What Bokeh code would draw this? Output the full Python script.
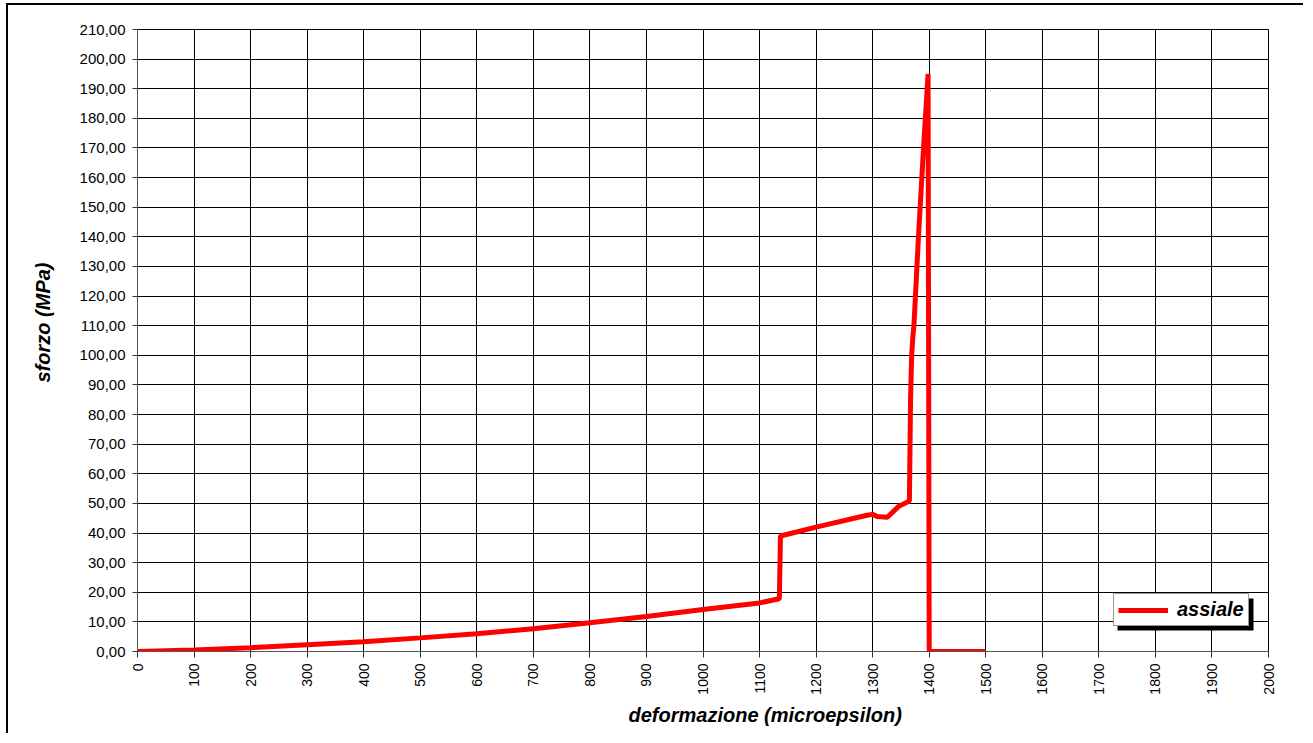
import math
from bokeh.plotting import figure
from bokeh.models import (Range1d, SingleIntervalTicker, CustomJSTickFormatter,
                          Legend, LegendItem, Title, BoxAnnotation,
                          ColumnDataSource)
from bokeh.embed import file_html
from bokeh.resources import INLINE

# ---- data ----
strain = [0, 100, 200, 300, 400, 500, 600, 700, 800, 900, 1000, 1100, 1135,
          1137, 1200, 1290, 1300, 1308, 1326, 1346, 1365, 1367, 1369, 1371,
          1373, 1381, 1390, 1398, 1400, 1500]
stress = [0.0, 0.5, 1.3, 2.3, 3.3, 4.6, 6.0, 7.7, 9.7, 11.8, 14.2, 16.4, 17.8,
          39.0, 42.0, 46.0, 46.3, 45.6, 45.3, 49.0, 50.8, 85.0, 100.0, 106.0,
          110.0, 140.0, 170.0, 195.0, 0.0, 0.0]
series_name = "assiale"
x_title = "deformazione (microepsilon)"
y_title = "sforzo (MPa)"
x_min, x_max, x_step = 0, 2000, 100
y_min, y_max, y_step = 0, 210, 10

FONT = "Liberation Sans"

# layout (pixels)
BL, BR, BT, BB = 129, 37, 24, 84
W, H = 1297, 730
FW, FH = W - BL - BR, H - BT - BB   # frame size

p = figure(width=W, height=H, output_backend="svg", toolbar_location=None,
           x_range=Range1d(x_min, x_max), y_range=Range1d(y_min, y_max),
           min_border_left=BL, min_border_right=BR, min_border_top=BT,
           min_border_bottom=BB)
p.styles = {"margin-top": "3px", "margin-left": "6px",
            "border-top": "2px solid black", "border-left": "2px solid black"}

p.background_fill_color = "white"
p.border_fill_color = "white"
p.outline_line_color = "black"
p.outline_line_width = 1

# grid
p.xgrid.ticker = SingleIntervalTicker(interval=x_step)
p.ygrid.ticker = SingleIntervalTicker(interval=y_step)
for g in (p.xgrid, p.ygrid):
    g.grid_line_color = "black"
    g.grid_line_width = 1
    g.grid_line_alpha = 1.0

# x axis
xa = p.xaxis[0]
xa.ticker = SingleIntervalTicker(interval=x_step)
xa.major_label_orientation = math.pi / 2
xa.major_label_text_font = FONT
xa.major_label_text_font_size = "14px"
xa.major_label_text_color = "black"
xa.major_tick_out = 6
xa.major_tick_in = 0
xa.minor_tick_out = 0
xa.minor_tick_in = 0
xa.major_label_standoff = 6
xa.axis_line_color = "#555555"
xa.major_tick_line_color = "#333333"

# y axis
ya = p.yaxis[0]
ya.ticker = SingleIntervalTicker(interval=y_step)
ya.formatter = CustomJSTickFormatter(code="return tick.toFixed(2).replace('.', ',');")
ya.major_label_text_font = FONT
ya.major_label_text_font_size = "15px"
ya.major_label_text_color = "black"
ya.major_tick_out = 5
ya.major_tick_in = 0
ya.minor_tick_out = 0
ya.minor_tick_in = 0
ya.major_label_standoff = 7
ya.axis_line_color = "#555555"
ya.major_tick_line_color = "#333333"

src = ColumnDataSource(data=dict(x=strain, y=stress))
r = p.line("x", "y", source=src, line_color="#FF0000", line_width=5)

# legend with drop shadow
LEG_X, LEG_Y, LEG_W, LEG_H, SH = 976, 25, 136, 32, 4
px2x = (x_max - x_min) / FW
px2y = (y_max - y_min) / FH
p.add_layout(BoxAnnotation(left=x_min + (LEG_X + SH) * px2x,
                           right=x_min + (LEG_X + SH + LEG_W) * px2x,
                           bottom=y_min + (LEG_Y - SH) * px2y,
                           top=y_min + (LEG_Y - SH + LEG_H) * px2y,
                           fill_color="black", fill_alpha=1.0,
                           line_color=None), "center")

lg = Legend(items=[LegendItem(label=series_name, renderers=[r])],
            location=(LEG_X, LEG_Y), orientation="vertical")
lg.background_fill_color = "white"
lg.background_fill_alpha = 1.0
lg.border_line_color = "#333333"
lg.border_line_width = 1
lg.label_text_font = FONT
lg.label_text_font_size = "20px"
lg.label_text_font_style = "bold italic"
lg.label_text_color = "black"
lg.padding = 4
lg.margin = 0
lg.spacing = 0
lg.glyph_width = 50
lg.glyph_height = 16
lg.label_standoff = 9
lg.label_height = 16
p.add_layout(lg, "center")

# axis titles
xt = Title(text=x_title, align="left", offset=491, standoff=8,
           text_font=FONT, text_font_size="20px",
           text_font_style="bold italic", text_color="black")
p.add_layout(xt, "below")
yt = Title(text=y_title, align="left", offset=269, standoff=42,
           vertical_align="top",
           text_font=FONT, text_font_size="20px",
           text_font_style="bold italic", text_color="black")
p.add_layout(yt, "left")

open("out.html", "w").write(file_html(p, INLINE))
